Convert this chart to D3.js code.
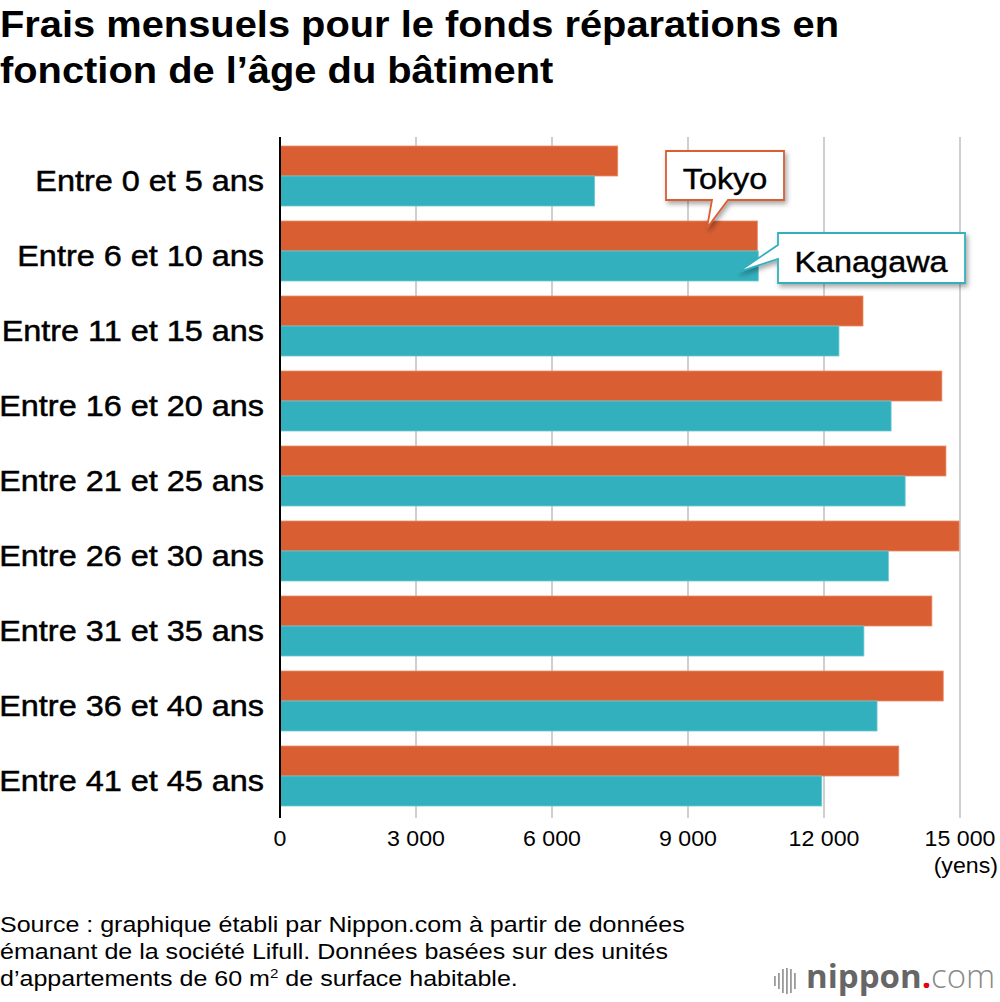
<!doctype html>
<html lang="fr">
<head>
<meta charset="utf-8">
<title>Frais mensuels pour le fonds réparations</title>
<script src="https://d3js.org/d3.v7.min.js"></script>
<style>
  body { margin: 0; background: #fff; }
  text { font-family: "Liberation Sans", Arial, Helvetica, sans-serif; }
</style>
</head>
<body>
<div id="main"></div>
<script>
 // data
 const categories = ['Entre 0 et 5 ans', 'Entre 6 et 10 ans', 'Entre 11 et 15 ans', 'Entre 16 et 20 ans',
                     'Entre 21 et 25 ans', 'Entre 26 et 30 ans', 'Entre 31 et 35 ans', 'Entre 36 et 40 ans',
                     'Entre 41 et 45 ans']
 const series = ['Tokyo', 'Kanagawa']
 const tokyo = [7450, 10530, 12860, 14600, 14690, 14980, 14380, 14630, 13650]
 const kanagawa = [6940, 10550, 12330, 13480, 13790, 13420, 12880, 13170, 11950]
 const tickValues = [0, 3000, 6000, 9000, 12000, 15000]

 const colours = {Tokyo: '#d95f33', Kanagawa: '#33b0be'}
 const strokes = {Tokyo: '#e98a66', Kanagawa: '#6cc8d2'}

 const W = 1000, H = 1002
 const svg = d3.select('#main').append('svg')
               .attr('width', W).attr('height', H)

 // the original lettering is a bit wider than Liberation Sans
 const placeText = (sel, px, py, sx) => sel.attr('transform', `translate(${px},${py}) scale(${sx},1)`)

 const defs = svg.append('defs')
 defs.append('filter').attr('id', 'shadow')
     .attr('x', '-20%').attr('y', '-20%').attr('width', '150%').attr('height', '160%')
     .append('feDropShadow')
     .attr('dx', 2).attr('dy', 3).attr('stdDeviation', 2.5)
     .attr('flood-color', '#000').attr('flood-opacity', 0.35)

 // title
 const title = svg.append('text')
                  .style('font-size', '37px').style('font-weight', 'bold')
                  .call(placeText, 0, 37, 1.077)
 title.append('tspan').attr('x', 0).text('Frais mensuels pour le fonds réparations en')
 title.append('tspan').attr('x', 0).attr('dy', 46).text('fonction de l’âge du bâtiment')

 const x = d3.scaleLinear().domain([0, 15000]).range([280, 960])
 const y = d3.scaleBand().domain(categories).range([138.5, 813.5])
             .paddingInner(0.2).paddingOuter(0.1)
 const ySub = d3.scaleBand().domain(series).range([0, y.bandwidth()])

 // grid
 svg.append('g').selectAll('line')
    .data(tickValues.slice(1))
    .enter().append('line')
    .attr('x1', d => x(d)).attr('x2', d => x(d))
    .attr('y1', 137).attr('y2', 818)
    .attr('stroke', '#cfcfcf').attr('stroke-width', 2)

 const rows = categories.map((c, i) => ({cat: c, values: [
     {key: 'Tokyo', value: tokyo[i]},
     {key: 'Kanagawa', value: kanagawa[i]}
 ]}))

 const groups = svg.append('g').selectAll('g')
                   .data(rows)
                   .enter().append('g')
                   .attr('transform', d => `translate(0,${y(d.cat)})`)

 groups.selectAll('rect')
       .data(d => d.values)
       .enter().append('rect')
       .attr('x', x(0))
       .attr('y', d => ySub(d.key))
       .attr('width', d => x(d.value) - x(0))
       .attr('height', ySub.bandwidth())
       .attr('fill', d => colours[d.key])
       .attr('stroke', d => strokes[d.key])
       .attr('stroke-width', 0.8)

 // category labels
 svg.append('g').selectAll('text')
    .data(categories)
    .enter().append('text')
    .each(function (d) { placeText(d3.select(this), 264, y(d) + y.bandwidth() / 2, 1.08) })
    .attr('dy', '0.5em')
    .attr('text-anchor', 'end')
    .style('font-size', '30px')
    .attr('fill', '#000').attr('stroke', '#000').attr('stroke-width', 0.5)
    .text(d => d)

 // y axis line
 svg.append('line')
    .attr('x1', x(0)).attr('x2', x(0))
    .attr('y1', 137).attr('y2', 818)
    .attr('stroke', '#000').attr('stroke-width', 2)

 // x axis labels
 const fmt = d => d3.format(',')(d).replace(/,/g, ' ')
 svg.append('g').selectAll('text')
    .data(tickValues)
    .enter().append('text')
    .each(function (d) { placeText(d3.select(this), x(d), 846, 1.03) })
    .attr('text-anchor', 'middle')
    .style('font-size', '22.5px')
    .text(fmt)
 svg.append('text')
    .call(placeText, 998, 873, 1.03)
    .attr('text-anchor', 'end')
    .style('font-size', '22.5px')
    .text('(yens)')

 // callouts
 const row2 = y(categories[1])
 const tk = svg.append('g').attr('filter', 'url(#shadow)')
 tk.append('path')
   .attr('d', `M666,151 H784 V200 H728 L707,${row2 + 7} L712,200 H666 Z`)
   .attr('fill', '#fff').attr('stroke', colours.Tokyo).attr('stroke-width', 1.8)
 svg.append('text')
    .call(placeText, 725, 189, 1.08)
    .attr('text-anchor', 'middle').style('font-size', '30px')
    .attr('stroke', '#000').attr('stroke-width', 0.4)
    .text('Tokyo')

 const kg = svg.append('g').attr('filter', 'url(#shadow)')
 kg.append('path')
   .attr('d', `M778,233 H965 V283 H778 V259 L738,${row2 + ySub('Kanagawa') + 21} L778,245 Z`)
   .attr('fill', '#fff').attr('stroke', colours.Kanagawa).attr('stroke-width', 1.8)
 svg.append('text')
    .call(placeText, 871, 272, 1.08)
    .attr('text-anchor', 'middle').style('font-size', '30px')
    .attr('stroke', '#000').attr('stroke-width', 0.4)
    .text('Kanagawa')

 // source
 const src = svg.append('text').style('font-size', '21.5px')
                .call(placeText, 0, 932, 1.165)
 src.append('tspan').attr('x', 0).text('Source : graphique établi par Nippon.com à partir de données')
 src.append('tspan').attr('x', 0).attr('dy', 27).text('émanant de la société Lifull. Données basées sur des unités')
 const l3 = src.append('tspan').attr('x', 0).attr('dy', 27)
 l3.append('tspan').text('d’appartements de 60 m')
 l3.append('tspan').attr('dy', -8).style('font-size', '13px').text('2')
 l3.append('tspan').attr('dy', 8).text(' de surface habitable.')

 // logo
 const bars = [[774, 10], [778, 16], [782, 24], [786, 26], [790, 24], [794, 16]]
 svg.append('g').selectAll('rect')
    .data(bars).enter().append('rect')
    .attr('x', d => d[0]).attr('width', 1.8)
    .attr('y', d => 981 - d[1] / 2).attr('height', d => d[1])
    .attr('fill', '#9a9a9a')
 const logo = svg.append('text').attr('x', 806).attr('y', 988)
                 .style('font-family', '"Open Sans", "DejaVu Sans", sans-serif')
                 .style('font-size', '33px')
 logo.append('tspan').attr('fill', '#666').style('font-weight', 'bold').text('nippon')
 logo.append('tspan').attr('fill', '#e60012').style('font-weight', 'bold').text('.')
 logo.append('tspan').attr('fill', '#8a8a8a').style('font-weight', '300').text('com')
</script>
</body>
</html>
